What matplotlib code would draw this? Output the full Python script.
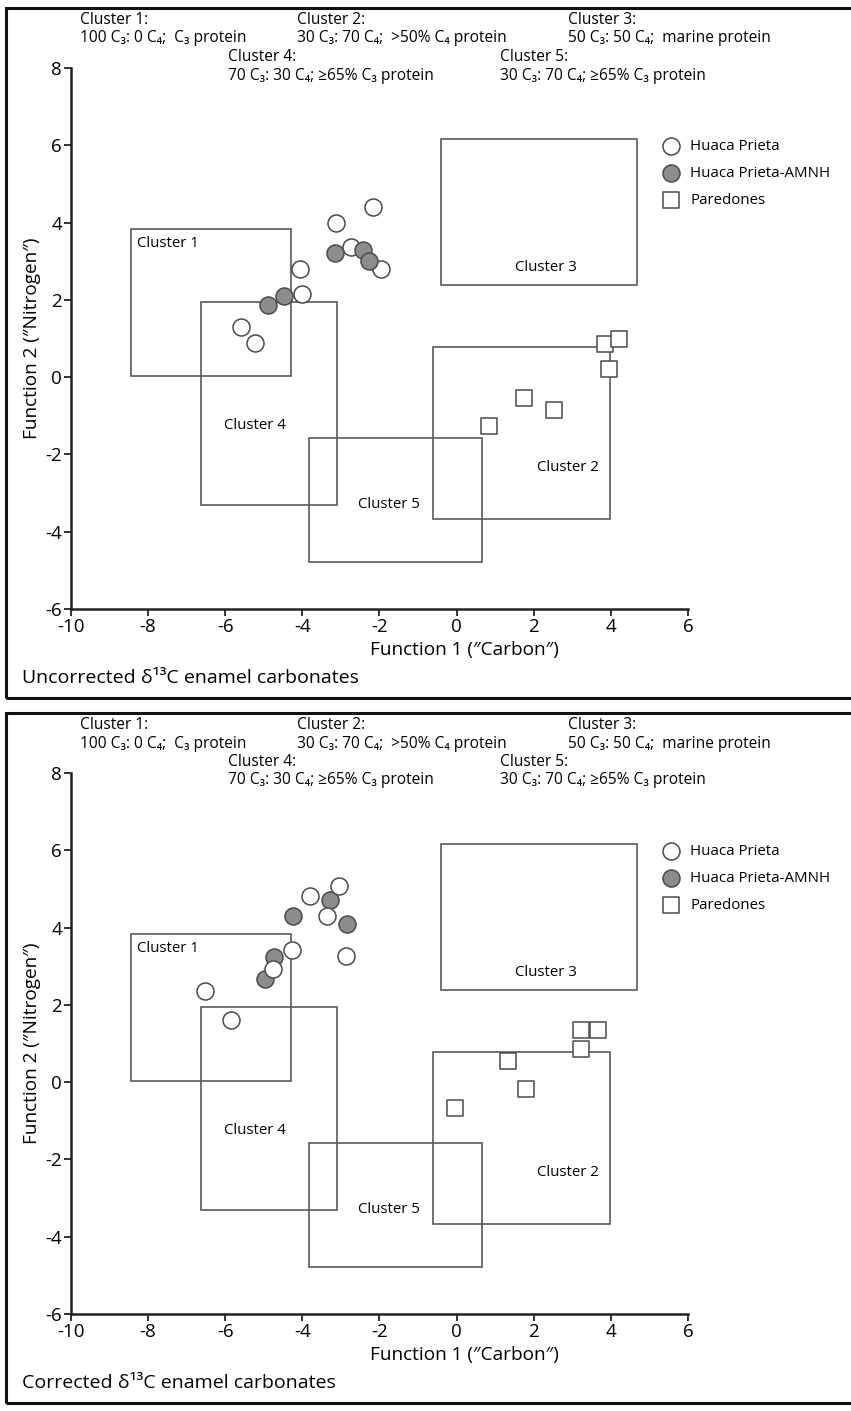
import matplotlib.pyplot as plt
from matplotlib.patches import Rectangle

plt.rcParams['font.family'] = ['Open Sans', 'DejaVu Sans']
plt.rcParams['axes.unicode_minus'] = False

W, H = 851, 1411

# cluster boxes (data units)
box_names = ['Cluster 1', 'Cluster 2', 'Cluster 3', 'Cluster 4', 'Cluster 5']
box_x0 = [-8.45, -0.62, -0.40, -6.62, -3.82]
box_x1 = [-4.30, 3.97, 4.67, -3.10, 0.65]
box_y0 = [0.02, -3.66, 2.38, -3.32, -4.78]
box_y1 = [3.84, 0.78, 6.16, 1.94, -1.58]

# uncorrected d13C
hp_x_unc = [-2.17, -3.12, -2.75, -1.95, -4.05, -4.02, -5.58, -5.23]
hp_y_unc = [4.41, 3.99, 3.37, 2.81, 2.79, 2.15, 1.30, 0.88]
amnh_x_unc = [-3.16, -2.43, -2.27, -4.47, -4.89]
amnh_y_unc = [3.21, 3.28, 3.01, 2.10, 1.86]
par_x_unc = [3.86, 4.20, 3.95, 1.74, 2.52, 0.83]
par_y_unc = [0.87, 1.00, 0.22, -0.53, -0.84, -1.27]

# corrected d13C
hp_x_cor = [-3.05, -3.81, -3.36, -4.27, -2.86, -4.76, -6.52, -5.85]
hp_y_cor = [5.08, 4.81, 4.30, 3.43, 3.26, 2.93, 2.35, 1.60]
amnh_x_cor = [-4.24, -3.29, -2.84, -4.74, -4.96]
amnh_y_cor = [4.30, 4.71, 4.09, 3.23, 2.68]
par_x_cor = [3.23, 3.66, 3.22, 1.33, 1.81, -0.03]
par_y_cor = [1.34, 1.34, 0.87, 0.54, -0.17, -0.66]

ann_head = ['Cluster 1:', 'Cluster 2:', 'Cluster 3:', 'Cluster 4:', 'Cluster 5:']
ann_body = ['100 C\u2083: 0 C\u2084;  C\u2083 protein',
            '30 C\u2083: 70 C\u2084;  >50% C\u2084 protein',
            '50 C\u2083: 50 C\u2084;  marine protein',
            '70 C\u2083: 30 C\u2084; \u226565% C\u2083 protein',
            '30 C\u2083: 70 C\u2084; \u226565% C\u2083 protein']

xticks = [-10, -8, -6, -4, -2, 0, 2, 4, 6]
yticks = [-6, -4, -2, 0, 2, 4, 6, 8]

edge = '#4a4a4a'
boxcol = '#5a5a5a'

fig = plt.figure(figsize=(W / 100, H / 100), dpi=100)


def panel(off, title, hx, hy, ax_, ay_, px, py, filled_on_top):
    # outer frame
    fig.patches.append(Rectangle((6 / W, 1 - (698 + off) / H), 1.0, 690 / H,
                                 transform=fig.transFigure, fill=False,
                                 lw=2.2, ec='#111111'))
    ax = fig.add_axes([71 / W, 1 - (609 + off) / H, 617 / W, 541 / H])
    ax.set_xlim(-10, 6)
    ax.set_ylim(-6, 8)
    for s in ['top', 'right']:
        ax.spines[s].set_visible(False)
    for s in ['left', 'bottom']:
        ax.spines[s].set_linewidth(1.8)
        ax.spines[s].set_color('#222222')
    ax.set_xticks(xticks)
    ax.set_yticks(yticks)
    ax.tick_params(labelsize=13.5, length=5, width=1.3, color='#222222', pad=1.5)

    for i in range(len(box_names)):
        ax.add_patch(Rectangle((box_x0[i], box_y0[i]), box_x1[i] - box_x0[i],
                               box_y1[i] - box_y0[i], fill=False, ec=boxcol, lw=1.2))
    ax.text(-8.3, 3.45, 'Cluster 1', fontsize=10.8, va='center', ha='left')
    ax.text(2.88, -2.35, 'Cluster 2', fontsize=10.8, va='center', ha='center')
    ax.text(2.31, 2.85, 'Cluster 3', fontsize=10.8, va='center', ha='center')
    ax.text(-5.23, -1.25, 'Cluster 4', fontsize=10.8, va='center', ha='center')
    ax.text(-1.76, -3.3, 'Cluster 5', fontsize=10.8, va='center', ha='center')

    z_open, z_fill = (3, 4) if filled_on_top else (4, 3)
    h1 = ax.scatter(hx, hy, s=150, marker='o', facecolor='white', edgecolor=edge,
                    linewidth=1.1, zorder=z_open, label='Huaca Prieta')
    h2 = ax.scatter(ax_, ay_, s=150, marker='o', facecolor='#8c8c8c', edgecolor=edge,
                    linewidth=1.1, zorder=z_fill, label='Huaca Prieta-AMNH')
    h3 = ax.scatter(px, py, s=120, marker='s', facecolor='white', edgecolor=edge,
                    linewidth=1.1, zorder=5, label='Paredones')
    ax.legend(handles=[h1, h2, h3], loc='upper left', bbox_to_anchor=(0.960, 0.868),
              frameon=False, fontsize=10.8, borderaxespad=0, borderpad=0,
              handlelength=1.0, handletextpad=0.8, labelspacing=0.78)

    ax.set_xlabel('Function 1 (\u2033Carbon\u2033)', fontsize=13.7)
    ax.xaxis.set_label_coords(0.637, -0.06)
    ax.set_ylabel('Function 2 (\u2033Nitrogen\u2033)', fontsize=13.7)
    ax.yaxis.set_label_coords(-0.049, 0.5)

    # cluster descriptions above plot
    xs = [80, 297, 568, 228, 500]
    rows = [0, 0, 0, 1, 1]
    for i in range(5):
        y0 = 20 + rows[i] * 37 + off
        fig.text(xs[i] / W, 1 - y0 / H, ann_head[i], fontsize=11.2, va='center', ha='left')
        fig.text(xs[i] / W, 1 - (y0 + 18.5) / H, ann_body[i], fontsize=11.2, va='center', ha='left')

    fig.text(22 / W, 1 - (678 + off) / H, title, fontsize=14, va='center', ha='left')


panel(0, 'Uncorrected \u03b4\u00b9\u00b3C enamel carbonates',
      hp_x_unc, hp_y_unc, amnh_x_unc, amnh_y_unc, par_x_unc, par_y_unc, True)
panel(705, 'Corrected \u03b4\u00b9\u00b3C enamel carbonates',
      hp_x_cor, hp_y_cor, amnh_x_cor, amnh_y_cor, par_x_cor, par_y_cor, False)

fig.savefig('out.png', dpi=100)
